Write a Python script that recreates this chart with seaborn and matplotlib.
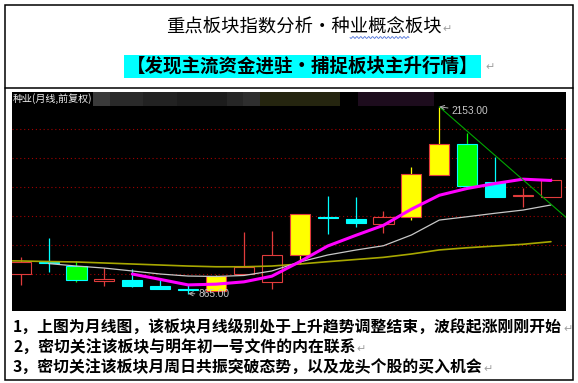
import numpy as np
import pandas as pd
import matplotlib
matplotlib.use("Agg")
import matplotlib.pyplot as plt
from matplotlib.patches import Rectangle
import seaborn as sns

# ---------------- data ----------------
title_text = "重点板块指数分析•种业概念板块"
banner_text = "【发现主流资金进驻•捕捉板块主升行情】"
chart_label = "种业(月线,前复权)"
notes = [
    "1，上图为月线图，该板块月线级别处于上升趋势调整结束，波段起涨刚刚开始",
    "2，密切关注该板块与明年初一号文件的内在联系",
    "3，密切关注该板块月周日共振突破态势，以及龙头个股的买入机会",
]

month_idx = list(range(20))
opens  = [998, 1080, 1057, 952, 959, 917, 897, 885, 998, 947,
          1131, 1393, 1379, 1347, 1391, 1683, 1895, 1637, 1538, 1529]
highs  = [1119, 1248, 1090, 1041, 1034, 959, 924, 990, 1292, 1299,
          1414, 1538, 1529, 1437, 1740, 2153, 1975, 1809, 1591, 1664]
lows   = [924, 1014, 945, 919, 912, 896, 865, 882, 996, 897,
          1069, 1276, 1326, 1281, 1372, 1683, 1607, 1533, 1464, 1529]
closes = [1085, 1076, 959, 966, 915, 897, 888, 986, 1046, 1131,
          1414, 1389, 1350, 1395, 1688, 1895, 1607, 1533, 1545, 1646]

ma5_idx = list(range(4, 20))
ma5 = [1000, 963, 925, 930, 946, 985, 1085, 1193, 1266, 1336,
       1447, 1543, 1590, 1624, 1654, 1645]

ma_white_idx = list(range(1, 20))
ma_white = [1072, 1055, 1041, 1021, 1000, 986, 983, 990, 1021, 1083,
            1131, 1165, 1195, 1269, 1372, 1395, 1419, 1441, 1476]

ma_olive_idx = list(range(-1, 20))
ma_olive = [1092, 1090, 1086, 1083, 1076, 1069, 1062, 1055, 1050, 1050, 1055,
            1069, 1085, 1100, 1115, 1138, 1166, 1181, 1193, 1205, 1223]

trend_x = [15, 19.7]
trend_y = [2153, 1364]

peak_label = "2153.00"
trough_label = "865.00"

# style lists
yellow_fill = [7, 10, 14, 15]
green_fill = [2, 16]

# ---------------- setup ----------------
sns.set_theme(style="white")
plt.rcParams['font.family'] = ['Noto Sans CJK SC', 'DejaVu Sans']

W, H = 578, 383
fig = plt.figure(figsize=(W / 100, H / 100), dpi=100)
fig.patch.set_facecolor('white')

bg = fig.add_axes([0, 0, 1, 1])
bg.set_xlim(0, W)
bg.set_ylim(H, 0)
bg.axis('off')

# borders
bg.add_patch(Rectangle((4.5, 4.5), 568, 375, fill=False, ec='black', lw=1.1))
bg.plot([4.5, 572.5], [87.5, 87.5], color='black', lw=1.1)

# title
t_title = bg.text(303.5, 28, title_text, ha='center', va='center',
                  fontsize=13.2, color='black')
# spell-check wave
wx = np.linspace(350, 409, 160)
bg.plot(wx, 37.5 + 0.9 * np.sin((wx - 350) * 1.6), color='#4a6fd8', lw=0.6)

# banner
bg.add_patch(Rectangle((124, 55), 357, 23, color='#00ffff', lw=0))
bg.text(302.5, 66.5, banner_text, ha='center', va='center',
        fontsize=13.3, fontweight='bold', color='black')

# notes
note_ts = []
for txt, y in zip(notes, [328, 348, 368]):
    note_ts.append(bg.text(13, y, txt, ha='left', va='center',
                           fontsize=11.4, fontweight='bold', color='black'))

# ---------------- chart ----------------
ax = fig.add_axes([12 / W, 1 - 311 / H, 554 / W, 219 / H])
ax.set_facecolor('black')
for s in ax.spines.values():
    s.set_visible(False)
ax.set_xlim(-0.31, 19.54)
ax.set_ylim(745, 2255)
ax.set_yticks([1000, 1200, 1400, 1600, 1800, 2000])
ax.set_xticks([])
ax.tick_params(left=False, labelleft=False, bottom=False, labelbottom=False)
ax.yaxis.grid(True, color='#a00000', linestyle=(0, (1, 2.5)), lw=0.8)
ax.xaxis.grid(False)
ax.set_axisbelow(True)

# header band (blurred strip)
band = [(93, 110, '#3a3a3a'), (110, 143, '#2a2a2a'), (143, 177, '#222222'),
        (177, 227, '#1c1c1c'), (227, 243, '#262626'), (243, 260, '#2e2e2e'),
        (260, 340, '#25250f'), (358, 434, '#1d0c1d')]
for x0, x1, c in band:
    ax.add_patch(Rectangle((x0, 92), x1 - x0, 14, color=c, lw=0,
                           transform=bg.transData, zorder=1.5))
ax.text(0.002, 0.993, chart_label, transform=ax.transAxes, ha='left', va='top',
        color='#f0f0f0', fontsize=7.2, zorder=6)

RED = '#e03c3c'
CYAN = '#00ffff'
bw = 0.72
for i, o, h, l, c in zip(month_idx, opens, highs, lows, closes):
    up = c >= o
    if up:
        edge = RED
        face = '#ffff00' if i in yellow_fill else 'black'
        wick = '#ffff00' if i in yellow_fill else RED
    else:
        edge = CYAN
        face = '#00ff00' if i in green_fill else CYAN
        wick = '#00ff00' if i in green_fill else CYAN
    ax.vlines(i, l, h, color=wick, lw=0.9, zorder=2)
    lo_b, hi_b = min(o, c), max(o, c)
    ax.bar(i, max(hi_b - lo_b, 3), bottom=lo_b, width=bw, color=face,
           edgecolor=edge, linewidth=0.8, zorder=3)

df_olive = pd.DataFrame({'m': ma_olive_idx, 'v': ma_olive})
df_white = pd.DataFrame({'m': ma_white_idx, 'v': ma_white})
df_ma5 = pd.DataFrame({'m': ma5_idx, 'v': ma5})
sns.lineplot(data=df_olive, x='m', y='v', color='#a8a800', lw=1.2, ax=ax, zorder=4)
sns.lineplot(data=df_white, x='m', y='v', color='#c8c8c8', lw=0.9, ax=ax, zorder=4)
sns.lineplot(data=df_ma5, x='m', y='v', color='#ff00ff', lw=2.2, ax=ax, zorder=5)
ax.plot(trend_x, trend_y, color='#00a800', lw=0.8, zorder=5)

ax.annotate(peak_label, xy=(15, highs[15]), xytext=(8.6, -3),
            textcoords='offset points', ha='left', va='center', color='#c8c8c8',
            fontsize=7.3, family='Liberation Sans', zorder=7,
            arrowprops=dict(arrowstyle='->', color='#b0b0b0', lw=0.7,
                            shrinkA=0, shrinkB=0))
ax.annotate(trough_label, xy=(6, lows[6]), xytext=(7.2, -0.5),
            textcoords='offset points', ha='left', va='center', color='#c8c8c8',
            fontsize=7.3, family='Liberation Sans', zorder=7,
            arrowprops=dict(arrowstyle='->', color='#b0b0b0', lw=0.7,
                            shrinkA=0, shrinkB=0))
ax.set_xlabel('')
ax.set_ylabel('')

# paragraph return marks
fig.canvas.draw()
r = fig.canvas.get_renderer()
def mark_after(t, y):
    bb = t.get_window_extent(r)
    bg.text(bb.x1 + 1, y, '↵', ha='left', va='center', color='#a0a0a0',
            fontsize=8, family=['DejaVu Sans'])
mark_after(t_title, 29)
bg.text(485, 67, '↵', ha='left', va='center', color='#a0a0a0', fontsize=8,
        family=['DejaVu Sans'])
for t, y in zip(note_ts, [329, 349, 369]):
    mark_after(t, y)

fig.savefig('out.png', dpi=100, facecolor='white')
